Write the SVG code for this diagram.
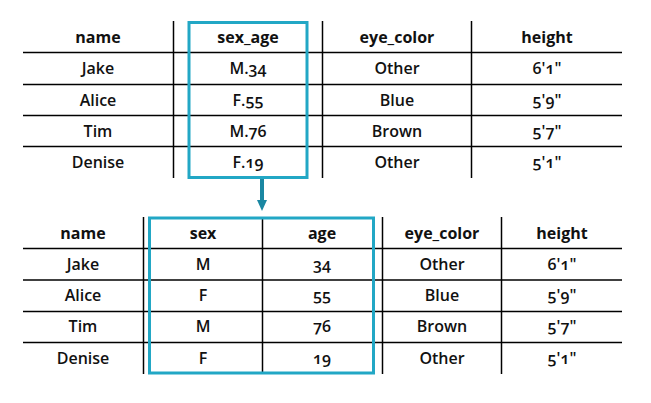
<svg xmlns="http://www.w3.org/2000/svg" width="651" height="403" viewBox="0 0 651 403">
<style>
text{font-family:"Open Sans","Noto Sans","Liberation Sans",sans-serif;font-size:16px;fill:#111;text-anchor:middle;font-weight:600;font-variant-numeric:oldstyle-nums}
.h{font-weight:700}
.ln{stroke:#000;stroke-width:1.5;fill:none}
.box{stroke:#22a7c5;stroke-width:3;fill:none}
.arr{stroke:#1a87a2;stroke-width:4;fill:none}
</style>
<defs>
<marker id="ah" markerWidth="11" markerHeight="10" refX="0" refY="5" orient="auto" markerUnits="userSpaceOnUse" viewBox="0 0 11 10"><path d="M0,0 L11,5 L0,10 Z" fill="#1a87a2"/></marker>
</defs>
<g id="top-table">
<line class="ln" x1="23" y1="52.5" x2="622" y2="52.5"/>
<line class="ln" x1="23" y1="84.5" x2="622" y2="84.5"/>
<line class="ln" x1="23" y1="115.5" x2="622" y2="115.5"/>
<line class="ln" x1="23" y1="146.5" x2="622" y2="146.5"/>
<line class="ln" x1="173.5" y1="21" x2="173.5" y2="178"/>
<line class="ln" x1="322.5" y1="21" x2="322.5" y2="178"/>
<line class="ln" x1="471.5" y1="21" x2="471.5" y2="178"/>
<text class="h" x="98" y="43">name</text>
<text class="h" x="248" y="43">sex_age</text>
<text class="h" x="397" y="43">eye_color</text>
<text class="h" x="547" y="43">height</text>
<text x="98" y="74">Jake</text><text x="248" y="74">M.34</text><text x="397" y="74">Other</text><text x="547" y="74">6'1"</text>
<text x="98" y="106">Alice</text><text x="248" y="106">F.55</text><text x="397" y="106">Blue</text><text x="547" y="106">5'9"</text>
<text x="98" y="137">Tim</text><text x="248" y="137">M.76</text><text x="397" y="137">Brown</text><text x="547" y="137">5'7"</text>
<text x="98" y="168">Denise</text><text x="248" y="168">F.19</text><text x="397" y="168">Other</text><text x="547" y="168">5'1"</text>
</g>
<g id="sex_age-highlight"><rect class="box" x="189" y="22.5" width="118" height="155"/></g>
<g id="connectors">
<line class="arr" x1="262" y1="179" x2="262" y2="200" marker-end="url(#ah)"/>
</g>
<g id="bottom-table">
<line class="ln" x1="23" y1="248.5" x2="622" y2="248.5"/>
<line class="ln" x1="23" y1="280" x2="622" y2="280"/>
<line class="ln" x1="23" y1="311.5" x2="622" y2="311.5"/>
<line class="ln" x1="23" y1="342.5" x2="622" y2="342.5"/>
<line class="ln" x1="143.5" y1="217" x2="143.5" y2="374"/>
<line class="ln" x1="262.5" y1="217" x2="262.5" y2="374"/>
<line class="ln" x1="382.5" y1="217" x2="382.5" y2="374"/>
<line class="ln" x1="501.5" y1="217" x2="501.5" y2="374"/>
<text class="h" x="83" y="239">name</text>
<text class="h" x="203" y="239">sex</text>
<text class="h" x="322" y="239">age</text>
<text class="h" x="442" y="239">eye_color</text>
<text class="h" x="562" y="239">height</text>
<text x="83" y="270">Jake</text><text x="203" y="270">M</text><text x="322" y="270">34</text><text x="442" y="270">Other</text><text x="562" y="270">6'1"</text>
<text x="83" y="301">Alice</text><text x="203" y="301">F</text><text x="322" y="301">55</text><text x="442" y="301">Blue</text><text x="562" y="301">5'9"</text>
<text x="83" y="332">Tim</text><text x="203" y="332">M</text><text x="322" y="332">76</text><text x="442" y="332">Brown</text><text x="562" y="332">5'7"</text>
<text x="83" y="364">Denise</text><text x="203" y="364">F</text><text x="322" y="364">19</text><text x="442" y="364">Other</text><text x="562" y="364">5'1"</text>
</g>
<g id="sex-age-highlight"><rect class="box" x="149.5" y="218" width="224" height="155"/></g>
</svg>
